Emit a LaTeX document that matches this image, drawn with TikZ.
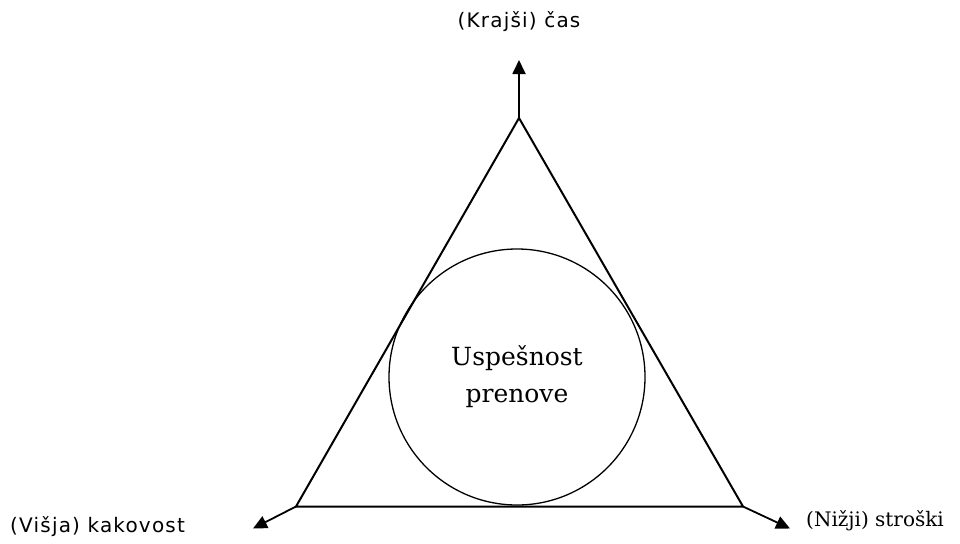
\documentclass[tikz,border=0pt]{standalone}
\usepackage{fontspec}
\usetikzlibrary{arrows.meta}
\newfontfamily\labsans[LetterSpace=6]{DejaVu Sans}
\newfontfamily\labserif{DejaVu Serif}
\begin{document}
\begin{tikzpicture}[x=1pt,y=-1pt,
  edge/.style={line width=2pt, line join=miter},
  axis/.style={line width=1.8pt, -{Triangle[length=14pt,width=13pt]}},
  sanslab/.style={font=\labsans\fontsize{20}{24}\selectfont, inner sep=0pt},
  seriflab/.style={font=\labserif\fontsize{20}{24}\selectfont, inner sep=0pt}]
\useasboundingbox (0,0) rectangle (960,543);
\coordinate (T) at (519,118);
\coordinate (L) at (296,506.5);
\coordinate (R) at (743,506.5);
\coordinate (Te) at (519,60);
\coordinate (Le) at (253,528.5);
\coordinate (Re) at (790,528.5);
\draw[edge] (T) -- (L) -- (R) -- cycle;
\node[circle, draw, line width=1.3pt, minimum size=256pt, inner sep=0pt,
  align=center, font=\labserif\fontsize{25}{37}\selectfont] (C) at (517,377)
  {Uspešnost\\prenove};
\draw[axis] (T) -- (Te);
\draw[axis] (L) -- (Le);
\draw[axis] (R) -- (Re);
\node[sanslab] (top) at (519,22) {(Krajši) čas};
\node[sanslab, anchor=west] (lft) at (10,527) {(Višja) kakovost};
\node[seriflab, anchor=west] (rgt) at (806,521) {(Nižji) stroški};
\end{tikzpicture}
\end{document}
